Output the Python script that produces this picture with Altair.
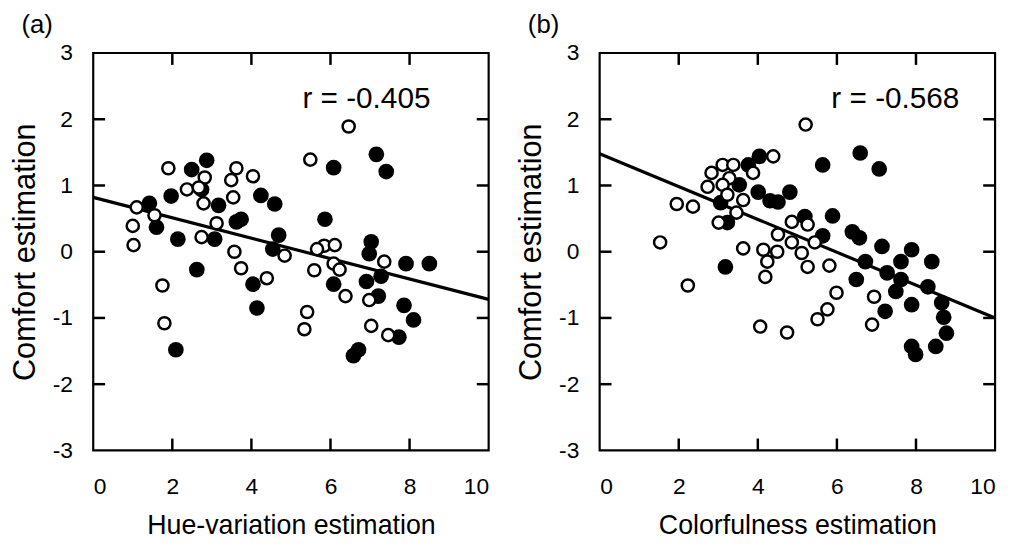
import altair as alt
import pandas as pd

# ---------------- data ----------------
# Panel (a): Hue-variation estimation vs Comfort estimation
a_open_x = [1.90, 3.62, 4.04, 3.49, 2.82, 2.37, 2.67, 3.54, 2.79, 1.10, 1.55, 1.00,
            3.12, 2.74, 1.02, 3.57, 3.74, 4.39, 4.84, 1.75, 1.80, 6.46, 5.49, 5.84,
            6.11, 5.66, 7.36, 5.59, 6.08, 6.23, 6.98, 6.38, 5.41, 5.34, 7.03, 7.46]
a_open_y = [1.26, 1.26, 1.14, 1.08, 1.12, 0.94, 0.97, 0.82, 0.73, 0.67, 0.55, 0.39,
            0.43, 0.22, 0.10, 0.00, -0.25, -0.40, -0.06, -0.51, -1.08, 1.89, 1.39, 0.09,
            0.10, 0.04, -0.15, -0.28, -0.18, -0.27, -0.73, -0.67, -0.91, -1.17, -1.12, -1.26]
a_fill_x = [2.87, 2.49, 2.74, 1.97, 4.24, 4.59, 3.17, 1.42, 3.74, 3.62, 1.60, 2.14,
            3.07, 4.69, 4.54, 2.62, 4.04, 4.14, 2.09, 6.08, 7.16, 7.41, 5.86, 7.03,
            6.98, 7.91, 8.50, 6.08, 6.91, 7.28, 7.21, 7.86, 8.10, 7.73, 6.71, 6.58]
a_fill_y = [1.38, 1.24, 0.94, 0.84, 0.85, 0.72, 0.70, 0.73, 0.49, 0.45, 0.37, 0.19,
            0.19, 0.25, 0.04, -0.27, -0.49, -0.85, -1.48, 1.27, 1.47, 1.21, 0.49, 0.15,
            -0.03, -0.18, -0.18, -0.49, -0.45, -0.37, -0.67, -0.81, -1.03, -1.29, -1.48, -1.57]
a_line_x = [0, 10]
a_line_y = [0.82, -0.72]

# Panel (b): Colorfulness estimation vs Comfort estimation
b_open_x = [5.21, 4.39, 3.11, 3.38, 2.83, 3.28, 3.88, 2.73, 3.11, 3.23, 3.63, 1.95,
            2.36, 3.01, 3.46, 4.86, 5.26, 4.51, 4.86, 1.53, 3.63, 4.14, 4.49, 4.24,
            4.19, 5.11, 5.26, 2.23, 4.06, 4.74, 5.44, 5.81, 5.99, 5.76, 5.51, 6.94, 6.89]
b_open_y = [1.92, 1.44, 1.31, 1.31, 1.19, 1.11, 1.19, 0.98, 1.01, 0.86, 0.78, 0.72,
            0.68, 0.44, 0.59, 0.45, 0.41, 0.26, 0.14, 0.14, 0.05, 0.03, 0.00, -0.15,
            -0.38, -0.02, -0.23, -0.51, -1.13, -1.22, 0.14, -0.21, -0.62, -0.87, -1.02, -0.68, -1.10]
b_fill_x = [4.04, 3.76, 3.53, 4.01, 4.31, 4.51, 4.81, 3.06, 3.23, 3.18, 5.19, 5.64,
            6.59, 7.07, 5.89, 5.64, 6.39, 6.57, 7.14, 6.72, 7.89, 7.62, 8.40, 6.49,
            7.27, 7.62, 7.49, 8.30, 7.89, 8.65, 7.22, 8.70, 8.77, 7.89, 8.50, 7.99]
b_fill_y = [1.44, 1.31, 1.01, 0.90, 0.77, 0.75, 0.90, 0.74, 0.44, -0.23, 0.53, 1.31,
            1.49, 1.25, 0.54, 0.24, 0.30, 0.21, 0.08, -0.15, 0.03, -0.15, -0.15, -0.42,
            -0.32, -0.42, -0.60, -0.53, -0.80, -0.77, -0.90, -0.99, -1.23, -1.43, -1.43, -1.55]
b_line_x = [0, 10]
b_line_y = [1.48, -1.00]

panel_labels = ["(a)", "(b)"]
x_titles = ["Hue-variation estimation", "Colorfulness estimation"]
y_title = "Comfort estimation"
r_labels = ["r = -0.405", "r = -0.568"]
r_pos_x = [5.29, 5.86]
r_pos_y = [2.30, 2.30]

x_label_values = [0, 2, 4, 6, 8, 10]
y_label_values = [-3, -2, -1, 0, 1, 2, 3]
x_inner_ticks = [2, 4, 6, 8]
y_inner_ticks = [-2, -1, 0, 1, 2]

# ---------------- chart ----------------
FONT = "Liberation Sans"
W, H = 399, 401
X_DOM = [0, 10]
Y_DOM = [-3, 3]
TICK_PX = 12
TX = (X_DOM[1] - X_DOM[0]) * TICK_PX / W   # tick length in x units
TY = (Y_DOM[1] - Y_DOM[0]) * TICK_PX / H   # tick length in y units


def enc_x(title):
    return alt.X("x:Q", scale=alt.Scale(domain=X_DOM, nice=False, zero=False),
                 axis=alt.Axis(values=x_label_values, title=title,
                               labelExpr="datum.value + ''"))


def enc_y():
    return alt.Y("y:Q", scale=alt.Scale(domain=Y_DOM, nice=False, zero=False),
                 axis=alt.Axis(values=y_label_values, title=y_title,
                               labelExpr="datum.value + ''"))


def inner_ticks_df():
    rows = []
    for v in x_inner_ticks:
        rows.append({"x": v, "y": Y_DOM[0], "x2": v, "y2": Y_DOM[0] + TY})
        rows.append({"x": v, "y": Y_DOM[1], "x2": v, "y2": Y_DOM[1] - TY})
    for v in y_inner_ticks:
        rows.append({"x": X_DOM[0], "y": v, "x2": X_DOM[0] + TX, "y2": v})
        rows.append({"x": X_DOM[1], "y": v, "x2": X_DOM[1] - TX, "y2": v})
    return pd.DataFrame(rows)


def panel(ox, oy, fx, fy, lx, ly, label, xt, rl, rx, ry):
    X = enc_x(xt)
    Y = enc_y()
    filled = alt.Chart(pd.DataFrame({"x": fx, "y": fy})).mark_circle(
        size=250, color="black", opacity=1).encode(x=X, y=Y)
    opened = alt.Chart(pd.DataFrame({"x": ox, "y": oy})).mark_point(
        shape="circle", size=150, filled=True, fill="white", stroke="black",
        strokeWidth=2.5, opacity=1, fillOpacity=1, strokeOpacity=1).encode(x=X, y=Y)
    line = alt.Chart(pd.DataFrame({"x": lx, "y": ly})).mark_line(
        color="black", strokeWidth=3.2).encode(x=X, y=Y)
    rtext = alt.Chart(pd.DataFrame({"x": [rx], "y": [ry], "t": [rl]})).mark_text(
        align="left", baseline="middle", font=FONT, fontSize=30, color="black"
    ).encode(x=X, y=Y, text="t:N")
    ticks = alt.Chart(inner_ticks_df()).mark_rule(
        color="black", strokeWidth=2.5, opacity=1).encode(
        x=X, y=Y, x2="x2:Q", y2="y2:Q")

    return alt.layer(line, filled, opened, rtext, ticks).properties(
        width=W, height=H,
        title=alt.TitleParams(text=label, anchor="start", dx=12, offset=4,
                              font=FONT, fontSize=26, fontWeight="normal",
                              color="black"))


pa = panel(a_open_x, a_open_y, a_fill_x, a_fill_y, a_line_x, a_line_y,
           panel_labels[0], x_titles[0], r_labels[0], r_pos_x[0], r_pos_y[0])
pb = panel(b_open_x, b_open_y, b_fill_x, b_fill_y, b_line_x, b_line_y,
           panel_labels[1], x_titles[1], r_labels[1], r_pos_x[1], r_pos_y[1])

chart = alt.hconcat(pa, pb, spacing=18).properties(
    padding={"left": 0, "top": 0, "right": 0, "bottom": 0},
    background="white"
).configure_view(
    stroke="black", strokeWidth=2.2
).configure_axis(
    grid=False, ticks=False, domain=False,
    labelFont=FONT, labelFontSize=23, labelColor="black",
    titleFont=FONT, titleFontWeight="normal", titleColor="black",
).configure_axisX(
    labelPadding=25, titlePadding=15, titleFontSize=27
).configure_axisY(
    labelPadding=21, titlePadding=11, titleFontSize=31
)

chart.save("out.html", embed_options={"renderer": "svg", "actions": False})
